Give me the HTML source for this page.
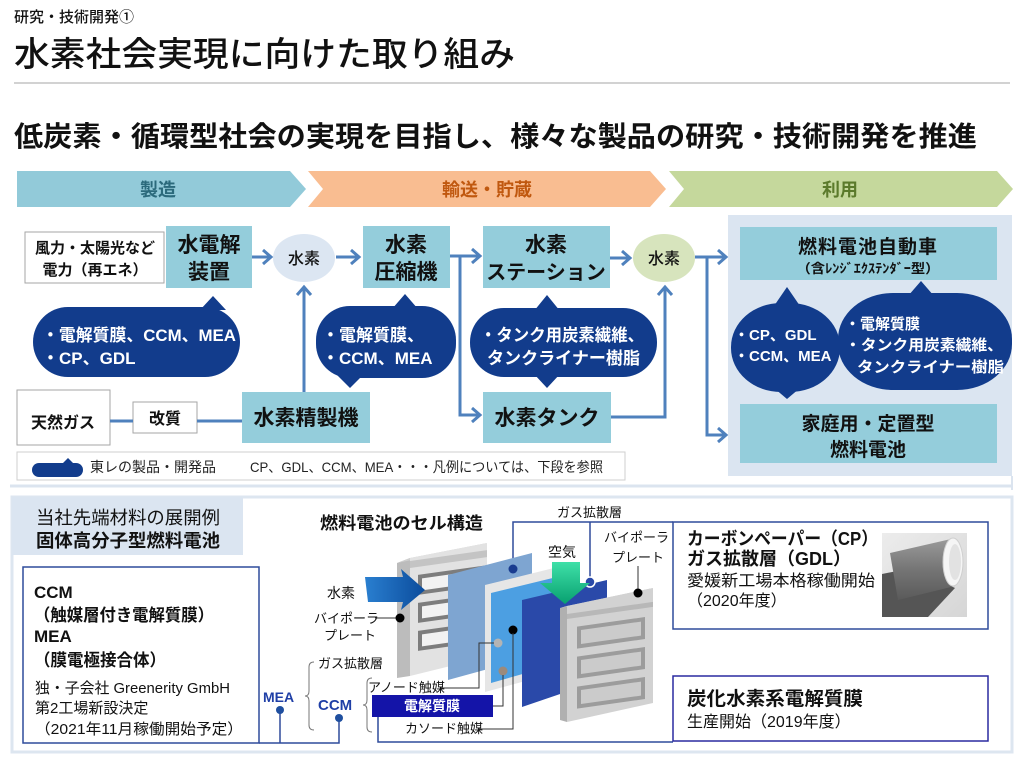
<!DOCTYPE html>
<html><head><meta charset="utf-8"><style>
html,body{margin:0;padding:0;background:#fff;}
svg{display:block;}
</style></head><body>
<svg width="1024" height="763" viewBox="0 0 1024 763" xmlns="http://www.w3.org/2000/svg" font-family="'Liberation Sans','Noto Sans CJK JP',sans-serif">
<defs>
<linearGradient id="gBlueArrow" x1="0" y1="0" x2="1" y2="0"><stop offset="0" stop-color="#2a7fd0"/><stop offset="1" stop-color="#0b4c9c"/></linearGradient>
<linearGradient id="gGreenArrow" x1="0" y1="0" x2="0" y2="1"><stop offset="0" stop-color="#3fe0a8"/><stop offset="1" stop-color="#08a070"/></linearGradient>
<linearGradient id="gPhoto" x1="0" y1="0" x2="1" y2="1"><stop offset="0" stop-color="#ececec"/><stop offset="1" stop-color="#d6d6d6"/></linearGradient>
<linearGradient id="gRoll" x1="0" y1="0" x2="0" y2="1"><stop offset="0" stop-color="#9a9a9a"/><stop offset="0.5" stop-color="#757575"/><stop offset="1" stop-color="#5a5a5a"/></linearGradient>
</defs>
<rect width="1024" height="763" fill="#fff"/>

<!-- Header -->
<text x="14" y="22" font-size="15" font-weight="500" fill="#111">研究・技術開発①</text>
<text x="14" y="66" font-size="34" font-weight="500" fill="#111" textLength="501" lengthAdjust="spacingAndGlyphs">水素社会実現に向けた取り組み</text>
<line x1="14" y1="83" x2="1010" y2="83" stroke="#c4c4c4" stroke-width="1.5"/>
<text x="14" y="146" font-size="28" font-weight="bold" fill="#111" textLength="963" lengthAdjust="spacingAndGlyphs">低炭素・循環型社会の実現を目指し、様々な製品の研究・技術開発を推進</text>

<!-- Chevrons -->
<polygon points="17,171 290,171 306,189 290,207 17,207" fill="#92cad9"/>
<polygon points="308,171 650,171 666,189 650,207 308,207 323,189" fill="#f9bd91"/>
<polygon points="669,171 997,171 1013,189 997,207 669,207 684,189" fill="#c5d89c"/>
<text x="158" y="196" font-size="18" font-weight="bold" fill="#2b6a7c" text-anchor="middle">製造</text>
<text x="487" y="196" font-size="18" font-weight="bold" fill="#c0580f" text-anchor="middle">輸送・貯蔵</text>
<text x="840" y="196" font-size="18" font-weight="bold" fill="#5b7a2b" text-anchor="middle">利用</text>

<!-- faint top-frame bottom line -->
<line x1="10" y1="486" x2="1012" y2="486" stroke="#dbe4ef" stroke-width="3"/>
<line x1="1012" y1="476" x2="1012" y2="490" stroke="#dbe4ef" stroke-width="2"/>

<!-- Right panel -->
<rect x="728" y="215" width="284" height="261" fill="#dbe5f1"/>

<!-- Boxes -->
<rect x="25" y="232" width="139" height="51" fill="#fff" stroke="#a6a6a6" stroke-width="1"/>
<text x="95" y="253" font-size="15" font-weight="bold" fill="#111" text-anchor="middle">風力・太陽光など</text>
<text x="95" y="275" font-size="15" font-weight="bold" fill="#111" text-anchor="middle">電力（再エネ）</text>

<rect x="166" y="226" width="86" height="62" fill="#94cddb"/>
<text x="209" y="252" font-size="21" font-weight="bold" fill="#111" text-anchor="middle">水電解</text>
<text x="209" y="279" font-size="21" font-weight="bold" fill="#111" text-anchor="middle">装置</text>

<ellipse cx="304" cy="258" rx="31" ry="24" fill="#dce6f2"/>
<text x="304" y="264" font-size="16" font-weight="500" fill="#111" text-anchor="middle">水素</text>

<rect x="363" y="226" width="87" height="62" fill="#94cddb"/>
<text x="406" y="252" font-size="21" font-weight="bold" fill="#111" text-anchor="middle">水素</text>
<text x="406" y="279" font-size="21" font-weight="bold" fill="#111" text-anchor="middle">圧縮機</text>

<rect x="483" y="226" width="127" height="62" fill="#94cddb"/>
<text x="546" y="252" font-size="21" font-weight="bold" fill="#111" text-anchor="middle">水素</text>
<text x="546" y="279" font-size="20" font-weight="bold" fill="#111" text-anchor="middle">ステーション</text>

<ellipse cx="664" cy="258" rx="31" ry="24" fill="#d7e4bd"/>
<text x="664" y="264" font-size="16" font-weight="500" fill="#111" text-anchor="middle">水素</text>

<rect x="483" y="392" width="128" height="51" fill="#94cddb"/>
<text x="547" y="425" font-size="21" font-weight="bold" fill="#111" text-anchor="middle">水素タンク</text>

<rect x="17" y="390" width="93" height="55" fill="#fff" stroke="#a6a6a6" stroke-width="1"/>
<text x="63" y="428" font-size="16" font-weight="bold" fill="#111" text-anchor="middle">天然ガス</text>
<rect x="133" y="402" width="64" height="31" fill="#fff" stroke="#a6a6a6" stroke-width="1"/>
<text x="165" y="424" font-size="16" font-weight="bold" fill="#111" text-anchor="middle">改質</text>
<rect x="242" y="392" width="128" height="51" fill="#94cddb"/>
<text x="306" y="425" font-size="21" font-weight="bold" fill="#111" text-anchor="middle">水素精製機</text>

<rect x="740" y="227" width="257" height="53" fill="#94cddb"/>
<text x="868" y="253" font-size="19" font-weight="bold" fill="#111" text-anchor="middle" letter-spacing="1">燃料電池自動車</text>
<text x="868" y="273" font-size="13" font-weight="bold" fill="#111" text-anchor="middle" textLength="143" lengthAdjust="spacingAndGlyphs">（含ﾚﾝｼﾞｴｸｽﾃﾝﾀﾞｰ型）</text>

<rect x="740" y="404" width="257" height="59" fill="#94cddb"/>
<text x="868" y="430" font-size="19" font-weight="bold" fill="#111" text-anchor="middle">家庭用・定置型</text>
<text x="868" y="456" font-size="19" font-weight="bold" fill="#111" text-anchor="middle">燃料電池</text>

<!-- Connectors -->
<g stroke="#4f81bd" stroke-width="3" fill="none" stroke-linecap="butt" stroke-linejoin="miter">
  <line x1="252" y1="257" x2="270" y2="257"/><polyline points="263,250 271,257 263,264"/>
  <line x1="336" y1="257" x2="358" y2="257"/><polyline points="351,250 359,257 351,264"/>
  <polyline points="450,256 460,256 460,415 479,415"/>
  <line x1="460" y1="256" x2="479" y2="256"/>
  <polyline points="472,249 480,256 472,263"/>
  <polyline points="472,408 480,415 472,422"/>
  <line x1="610" y1="258" x2="629" y2="258"/><polyline points="622,251 630,258 622,265"/>
  <polyline points="611,417 665,417 665,288"/>
  <polyline points="658,295 665,287 672,295"/>
  <polyline points="695,257 707,257 707,435 725,435"/>
  <line x1="707" y1="257" x2="725" y2="257"/>
  <polyline points="718,250 726,257 718,264"/>
  <polyline points="718,428 726,435 718,442"/>
  <line x1="110" y1="421" x2="133" y2="421"/>
  <line x1="197" y1="421" x2="242" y2="421"/>
  <line x1="304" y1="392" x2="304" y2="288"/>
  <polyline points="297,295 304,287 311,295"/>
</g>

<!-- Navy bubbles -->
<g fill="#123c8c">
  <rect x="33" y="307" width="207" height="70" rx="35" ry="35"/>
  <polygon points="200,310 213,296 226,310"/>
  <rect x="316" y="306" width="140" height="72" rx="34" ry="34"/>
  <polygon points="392,309 405,294 418,309"/>
  <polygon points="337,375 350,388 363,375"/>
  <rect x="470" y="308" width="187" height="69" rx="34" ry="34"/>
  <polygon points="534,311 547,295 560,311"/>
  <polygon points="534,374 547,388 560,374"/>
  <rect x="731" y="303" width="109" height="89" rx="50" ry="44"/>
  <polygon points="774,306 787,287 800,306"/>
  <polygon points="774,388 787,399 800,388"/>
  <rect x="838" y="293" width="174" height="97" rx="55" ry="46"/>
  <polygon points="908,296 921,281 934,296"/>
</g>
<g fill="#fff" font-size="17" font-weight="600">
  <text x="42" y="341" textLength="194" lengthAdjust="spacingAndGlyphs">・電解質膜、CCM、MEA</text>
  <text x="42" y="364">・CP、GDL</text>
  <text x="322" y="341">・電解質膜、</text>
  <text x="322" y="364">・CCM、MEA</text>
  <text x="480" y="341" textLength="164" lengthAdjust="spacingAndGlyphs">・タンク用炭素繊維、</text>
  <text x="487" y="364" textLength="153" lengthAdjust="spacingAndGlyphs">タンクライナー樹脂</text>
</g>
<g fill="#fff" font-size="15" font-weight="600">
  <text x="734" y="340">・CP、GDL</text>
  <text x="734" y="361">・CCM、MEA</text>
  <text x="845" y="329">・電解質膜</text>
  <text x="845" y="350" textLength="158" lengthAdjust="spacingAndGlyphs">・タンク用炭素繊維、</text>
  <text x="857" y="372" textLength="147" lengthAdjust="spacingAndGlyphs">タンクライナー樹脂</text>
</g>

<!-- Legend -->
<rect x="17" y="452" width="608" height="28" fill="#fff" stroke="#cfcfcf" stroke-width="1"/>
<rect x="32" y="463" width="51" height="14" rx="7" fill="#123c8c"/>
<polygon points="62,464 68,458 74,464" fill="#123c8c"/>
<text x="90" y="472" font-size="14" fill="#222">東レの製品・開発品</text>
<text x="250" y="472" font-size="14" fill="#222" textLength="353" lengthAdjust="spacingAndGlyphs">CP、GDL、CCM、MEA・・・凡例については、下段を参照</text>

<!-- Bottom panel -->
<rect x="12" y="497" width="1000" height="255" fill="#fff" stroke="#dde6f0" stroke-width="3"/>
<rect x="12" y="497" width="231" height="58" fill="#dbe5f1"/>
<text x="36" y="524" font-size="18" fill="#111" textLength="184" lengthAdjust="spacingAndGlyphs">当社先端材料の展開例</text>
<text x="36" y="547" font-size="18" font-weight="bold" fill="#111" textLength="184" lengthAdjust="spacingAndGlyphs">固体高分子型燃料電池</text>

<rect x="23" y="567" width="236" height="176" fill="#fff" stroke="#2f4b9b" stroke-width="1.5"/>
<g font-size="17" font-weight="bold" fill="#111">
  <text x="34" y="598">CCM</text>
  <text x="34" y="621" textLength="180" lengthAdjust="spacingAndGlyphs">（触媒層付き電解質膜）</text>
  <text x="34" y="642">MEA</text>
  <text x="34" y="666" textLength="132" lengthAdjust="spacingAndGlyphs">（膜電極接合体）</text>
</g>
<g font-size="15" fill="#111">
  <text x="35" y="693" textLength="195" lengthAdjust="spacingAndGlyphs">独・子会社 Greenerity GmbH</text>
  <text x="35" y="713">第2工場新設決定</text>
  <text x="35" y="734" textLength="208" lengthAdjust="spacingAndGlyphs">（2021年11月稼働開始予定）</text>
</g>

<!-- MEA / CCM labels -->
<text x="263" y="702" font-size="14" font-weight="bold" fill="#1f3fa6">MEA</text>
<text x="318" y="710" font-size="15" font-weight="bold" fill="#1f3fa6">CCM</text>
<text x="318" y="668" font-size="13" fill="#111">ガス拡散層</text>
<g stroke="#2f4b9b" stroke-width="1.5" fill="none">
  <line x1="280" y1="710" x2="280" y2="743"/>
  <polyline points="259,743 339,743 339,718"/>
  <polyline points="378,717 378,742 673,742"/>
  <polyline points="513,569 513,522 673,522"/>
  <line x1="590" y1="522" x2="590" y2="578"/>
</g>
<circle cx="280" cy="710" r="4" fill="#1f4f9f"/>
<circle cx="339" cy="718" r="4" fill="#1f4f9f"/>
<g stroke="#777" stroke-width="1" fill="none">
  <path d="M314,662 Q309,662 309,667 L309,691 Q309,696 305,696 Q309,696 309,701 L309,725 Q309,730 314,730"/>
  <path d="M372,678 Q367,678 367,683 L367,700 Q367,705 363,705 Q367,705 367,710 L367,727 Q367,732 372,732"/>
</g>

<!-- Cell structure title/labels -->
<text x="320" y="529" font-size="17" font-weight="bold" fill="#111" textLength="163" lengthAdjust="spacingAndGlyphs">燃料電池のセル構造</text>
<text x="557" y="517" font-size="13" fill="#111">ガス拡散層</text>
<text x="548" y="557" font-size="14" fill="#111">空気</text>
<text x="604" y="542" font-size="13" fill="#111">バイポーラ</text>
<text x="612" y="562" font-size="13" fill="#111">プレート</text>
<text x="327" y="598" font-size="14" fill="#111">水素</text>
<text x="314" y="623" font-size="13" fill="#111">バイポーラ</text>
<text x="324" y="640" font-size="13" fill="#111">プレート</text>

<!-- Left bipolar plate -->
<polygon points="397,563 410,558 410,676 397,678" fill="#bcbcbc"/>
<polygon points="397,563 474,547 487,543 410,558" fill="#cfcfcf"/>
<polygon points="410,558 487,543 487,657 410,676" fill="#e2e2e2"/>
<g transform="translate(410,558) skewY(-8)">
  <rect x="0" y="3" width="77" height="7" fill="#c4c4c4"/>
  <rect x="10" y="20" width="80" height="16" fill="#f2f2f2" stroke="#7d7d7d" stroke-width="4"/>
  <rect x="10" y="48" width="80" height="16" fill="#f2f2f2" stroke="#7d7d7d" stroke-width="4"/>
  <rect x="10" y="76" width="80" height="16" fill="#f2f2f2" stroke="#7d7d7d" stroke-width="4"/>
</g>
<!-- Hydrogen arrow -->
<polygon points="365,577 403,577 401,569 425,590 401,610 403,602 368,602" fill="url(#gBlueArrow)"/>

<!-- GDL 1 -->
<polygon points="448,575 532,553 532,657 448,680" fill="#7ea5d1"/>
<!-- MEA frame -->
<polygon points="485,585 570,564 570,669 485,692" fill="#e6e6e6"/>
<polygon points="491,593 565,575 565,662 491,683" fill="#4c9fe2"/>
<circle cx="498" cy="643" r="4.5" fill="#b4b4b4"/>
<circle cx="503" cy="671" r="4.5" fill="#9b8a7c"/>
<!-- GDL 2 -->
<polygon points="522,600 607,580 607,678 522,707" fill="#2a49a9"/>
<circle cx="513" cy="630" r="4.5" fill="#000"/>
<circle cx="513" cy="569" r="4.5" fill="#1a3c8f"/>
<circle cx="590" cy="582" r="5" fill="#2a49a9" stroke="#fff" stroke-width="1.5"/>
<!-- Air arrow -->
<polygon points="552,562 580,562 580,583 590,583 565,604 540,583 552,583" fill="url(#gGreenArrow)"/>

<!-- Right bipolar plate -->
<polygon points="560,608 567,606 567,722 560,720" fill="#b0b0b0"/>
<polygon points="560,608 646,590 653,588 567,606" fill="#c9c9c9"/>
<polygon points="567,606 653,588 653,703 567,722" fill="#d2d2d2"/>
<g transform="translate(567,606) skewY(-8)">
  <rect x="0" y="8" width="86" height="5" fill="#b8b8b8"/>
  <rect x="12" y="24" width="64" height="18" fill="#cbcbcb" stroke="#9c9c9c" stroke-width="4"/>
  <rect x="12" y="54" width="64" height="18" fill="#cbcbcb" stroke="#9c9c9c" stroke-width="4"/>
  <rect x="12" y="84" width="64" height="18" fill="#cbcbcb" stroke="#9c9c9c" stroke-width="4"/>
</g>

<!-- Leader lines -->
<g stroke="#333" stroke-width="1" fill="none">
  <line x1="375" y1="618" x2="400" y2="618"/>
  <line x1="638" y1="566" x2="638" y2="593"/>
  <polyline points="440,688 479,688 479,643 494,643"/>
  <polyline points="493,706 503,706 503,675"/>
  <polyline points="478,729 513,729 513,633"/>
</g>
<circle cx="400" cy="618" r="4.5" fill="#000"/>
<circle cx="638" cy="593" r="4.5" fill="#000"/>

<text x="368" y="692" font-size="13" fill="#111">アノード触媒</text>
<rect x="372" y="695" width="121" height="22" fill="#1414a8"/>
<text x="432" y="711" font-size="14" font-weight="bold" fill="#fff" text-anchor="middle">電解質膜</text>
<text x="405" y="733" font-size="13" fill="#111">カソード触媒</text>

<!-- CP box -->
<rect x="673" y="522" width="315" height="107" fill="#fff" stroke="#2f4b9b" stroke-width="1.5"/>
<text x="687" y="545" font-size="18" font-weight="bold" fill="#111" textLength="191" lengthAdjust="spacingAndGlyphs">カーボンペーパー（CP）</text>
<text x="687" y="565" font-size="18" font-weight="bold" fill="#111">ガス拡散層（GDL）</text>
<text x="687" y="586" font-size="16" fill="#111" textLength="188" lengthAdjust="spacingAndGlyphs">愛媛新工場本格稼働開始</text>
<text x="687" y="606" font-size="16" fill="#111">（2020年度）</text>
<!-- Photo -->
<rect x="882" y="533" width="85" height="84" fill="url(#gPhoto)"/>
<polygon points="882,574 912,568 955,588 928,617 882,617" fill="#555"/>
<polygon points="890,553 951,539 955,586 898,600" fill="url(#gRoll)"/>
<ellipse cx="953" cy="562" rx="10" ry="24" fill="#f5f5f5" stroke="#cfcfcf" stroke-width="1"/>
<ellipse cx="955" cy="562" rx="6" ry="18" fill="#e2e2e2"/>

<!-- Hydrocarbon box -->
<rect x="673" y="676" width="315" height="65" fill="#fff" stroke="#2a2aa0" stroke-width="1.5"/>
<text x="687" y="705" font-size="19" font-weight="bold" fill="#111" textLength="176" lengthAdjust="spacingAndGlyphs">炭化水素系電解質膜</text>
<text x="687" y="727" font-size="16" fill="#111">生産開始（2019年度）</text>
</svg>
</body></html>
